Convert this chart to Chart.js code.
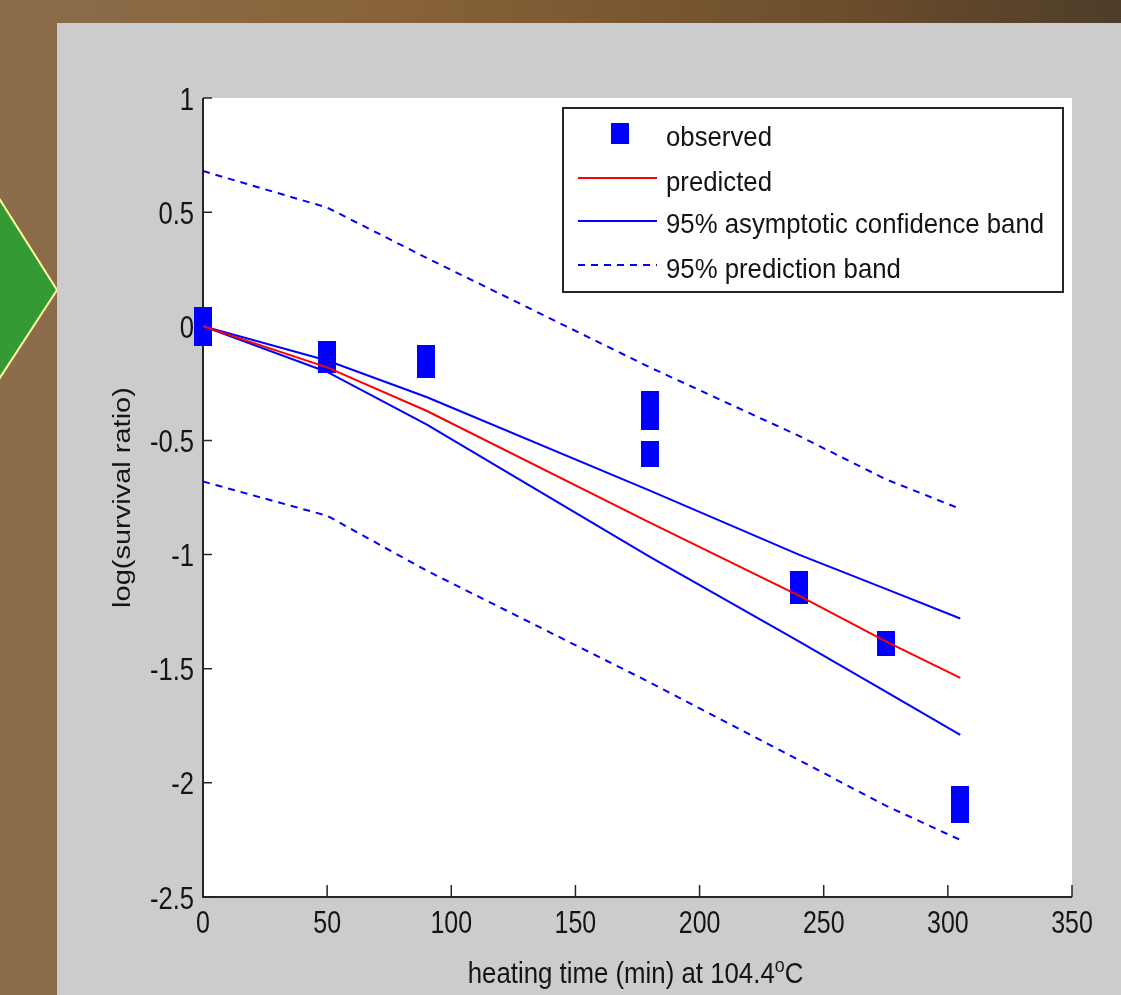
<!DOCTYPE html>
<html>
<head>
<meta charset="utf-8">
<script src="https://cdn.jsdelivr.net/npm/chart.js@4.4.1/dist/chart.umd.min.js"></script>
<style>
  html, body { margin: 0; padding: 0; }
  body {
    width: 1121px; height: 995px; overflow: hidden; position: relative;
    background: linear-gradient(90deg, #8b6d4c 0%, #886338 35%, #6c4d2c 75%, #4e3d29 100%);
  }
  #arrow { position: absolute; left: 0; top: 0; }
  #panel {
    position: absolute; left: 57px; top: 23px;
    width: 1064px; height: 972px; background: #cccccc;
  }
  #wrap { position: relative; width: 1064px; height: 972px; }
</style>
</head>
<body>
<svg id="arrow" width="70" height="500">
  <polygon points="-60,105 57,290 -60,470" fill="#339a35" stroke="#ffff99" stroke-width="2"/>
</svg>
<div id="panel"><div id="wrap"><canvas id="myChart"></canvas></div></div>
<script>
// heating time (min) and log survival ratio
const obsTime = [0, 0, 50, 50, 90, 90, 180, 180, 180, 180, 240, 240, 275, 275, 305, 305];
const obsLogS = [0.04, -0.04, -0.11, -0.16, -0.13, -0.18, -0.33, -0.41, -0.55, -0.57,
                 -1.12, -1.17, -1.38, -1.40, -2.06, -2.13];

const fitTime = [0, 50, 90, 180, 240, 275, 305];
const predicted = [0, -0.18, -0.37, -0.86, -1.18, -1.38, -1.54];
const confUpper = [0, -0.15, -0.31, -0.72, -1.00, -1.15, -1.28];
const confLower = [0, -0.20, -0.43, -1.01, -1.38, -1.60, -1.79];
const predBandUpper = [0.68, 0.52, 0.30, -0.18, -0.48, -0.67, -0.80];
const predBandLower = [-0.68, -0.83, -1.07, -1.56, -1.90, -2.10, -2.25];

const xTicks = [0, 50, 100, 150, 200, 250, 300, 350];
const yTicks = [1, 0.5, 0, -0.5, -1, -1.5, -2, -2.5];

const legendLabels = ['observed', 'predicted', '95% asymptotic confidence band', '95% prediction band'];
const xTitle = 'heating time (min) at 104.4';
const yTitle = 'log(survival ratio)';

const family = '"Liberation Sans", Arial, sans-serif';
const axisColor = '#262626';
const textColor = '#141414';

const pts = (xs, ys) => xs.map((x, i) => ({x: x, y: ys[i]}));

// the matlab picture is squeezed sideways, so the text is too
function squeezed(ctx, text, x, y, size, sx, align) {
  ctx.save();
  ctx.translate(x, y);
  ctx.scale(sx, 1);
  ctx.font = size + 'px ' + family;
  ctx.textAlign = align;
  ctx.textBaseline = 'alphabetic';
  ctx.fillText(text, 0, 0);
  ctx.restore();
}

const marker = document.createElement('canvas');
marker.width = 18;
marker.height = 21;
const mctx = marker.getContext('2d');
mctx.fillStyle = '#0000ff';
mctx.fillRect(0, 0, 18, 21);

function lineSet(label, ys, color, dash) {
  return {
    label: label,
    data: pts(fitTime, ys),
    showLine: true,
    borderColor: color,
    borderWidth: 2,
    borderDash: dash || [],
    pointRadius: 0,
    fill: false
  };
}

const matlabAxes = {
  id: 'matlabAxes',
  beforeDatasetsDraw(chart) {
    const {ctx, chartArea: a, scales} = chart;
    ctx.save();
    ctx.fillStyle = '#ffffff';
    ctx.fillRect(a.left, a.top, a.right - a.left, a.bottom - a.top);
    ctx.strokeStyle = axisColor;
    ctx.lineWidth = 2;
    ctx.beginPath();
    ctx.moveTo(a.left, a.top);
    ctx.lineTo(a.left, a.bottom);
    ctx.lineTo(a.right, a.bottom);
    ctx.stroke();
    // ticks point inward
    ctx.lineWidth = 1.5;
    ctx.beginPath();
    scales.x.ticks.forEach(t => {
      const px = scales.x.getPixelForValue(t.value);
      ctx.moveTo(px, a.bottom);
      ctx.lineTo(px, a.bottom - 12);
    });
    scales.y.ticks.forEach(t => {
      const py = scales.y.getPixelForValue(t.value);
      ctx.moveTo(a.left, py);
      ctx.lineTo(a.left + 9, py);
    });
    ctx.stroke();

    // tick labels
    ctx.fillStyle = textColor;
    scales.x.ticks.forEach(t => {
      squeezed(ctx, String(t.value), scales.x.getPixelForValue(t.value), a.bottom + 36, 32, 0.78, 'center');
    });
    scales.y.ticks.forEach(t => {
      squeezed(ctx, String(t.value), a.left - 9, scales.y.getPixelForValue(t.value) + 11.5, 32, 0.8, 'right');
    });

    // x title with superscript o
    ctx.font = '29px ' + family;
    const sx = 0.89;
    const w1 = ctx.measureText(xTitle).width * sx;
    ctx.font = '20px ' + family;
    const w2 = ctx.measureText('o').width * sx;
    ctx.font = '29px ' + family;
    const w3 = ctx.measureText('C').width * sx;
    const x0 = (a.left + a.right) / 2 - (w1 + w2 + w3) / 2 - 2;
    const base = a.bottom + 86;
    squeezed(ctx, xTitle, x0, base, 29, sx, 'left');
    squeezed(ctx, 'o', x0 + w1, base - 11, 20, sx, 'left');
    squeezed(ctx, 'C', x0 + w1 + w2, base, 29, sx, 'left');

    // y title, rotated
    ctx.save();
    ctx.translate(66, (a.top + a.bottom) / 2);
    ctx.rotate(-Math.PI / 2);
    ctx.scale(1, 0.85);
    ctx.font = '29px ' + family;
    ctx.textAlign = 'center';
    ctx.textBaseline = 'middle';
    ctx.fillText(yTitle, 0, 0);
    ctx.restore();
    ctx.restore();
  },
  afterDraw(chart) {
    const {ctx, chartArea: a} = chart;
    const bx = a.right - 509, by = a.top + 10, bw = 500, bh = 184;
    ctx.save();
    ctx.fillStyle = '#ffffff';
    ctx.fillRect(bx, by, bw, bh);
    ctx.strokeStyle = axisColor;
    ctx.lineWidth = 2;
    ctx.strokeRect(bx, by, bw, bh);

    const rowY = [by + 25, by + 70, by + 113, by + 157];
    const sx0 = bx + 15, sx1 = bx + 94;
    ctx.drawImage(marker, bx + 57 - 9, rowY[0] - 10.5);
    const styles = [null, ['#ff0000', []], ['#0000ff', []], ['#0000ff', [7, 6]]];
    for (let i = 1; i < 4; i++) {
      ctx.strokeStyle = styles[i][0];
      ctx.setLineDash(styles[i][1]);
      ctx.lineWidth = 2;
      ctx.beginPath();
      ctx.moveTo(sx0, rowY[i]);
      ctx.lineTo(sx1, rowY[i]);
      ctx.stroke();
    }
    ctx.setLineDash([]);
    ctx.fillStyle = textColor;
    const base = [123, 168, 210, 255].map(v => v - 85 + by);
    legendLabels.forEach((t, i) => squeezed(ctx, t, bx + 103, base[i], 28, 0.92, 'left'));
    ctx.restore();
  }
};

const config = {
  type: 'scatter',
  data: {
    datasets: [
      lineSet('predicted', predicted, '#ff0000'),
      lineSet('upper confidence', confUpper, '#0000ff'),
      lineSet('lower confidence', confLower, '#0000ff'),
      lineSet('upper prediction', predBandUpper, '#0000ff', [7, 6]),
      lineSet('lower prediction', predBandLower, '#0000ff', [7, 6]),
      {
        label: 'observed',
        data: pts(obsTime, obsLogS),
        pointStyle: marker,
        pointRadius: 10,
        backgroundColor: '#0000ff',
        borderColor: '#0000ff',
        clip: false
      }
    ]
  },
  options: {
    responsive: true,
    maintainAspectRatio: false,
    animation: false,
    layout: { padding: { left: 0, right: 49, top: 75, bottom: 0 } },
    plugins: {
      legend: { display: false },
      tooltip: { enabled: false }
    },
    scales: {
      x: {
        type: 'linear',
        min: 0, max: 350,
        afterFit(s) { s.height = 98; },
        afterBuildTicks(s) { s.ticks = xTicks.map(v => ({value: v})); },
        grid: { display: false, drawTicks: false },
        border: { display: false },
        ticks: { display: false }
      },
      y: {
        type: 'linear',
        min: -2.5, max: 1,
        afterFit(s) { s.width = 146; },
        afterBuildTicks(s) { s.ticks = yTicks.map(v => ({value: v})); },
        grid: { display: false, drawTicks: false },
        border: { display: false },
        ticks: { display: false }
      }
    }
  },
  plugins: [matlabAxes]
};

const myChart = new Chart(document.getElementById('myChart'), config);
</script>
</body>
</html>
